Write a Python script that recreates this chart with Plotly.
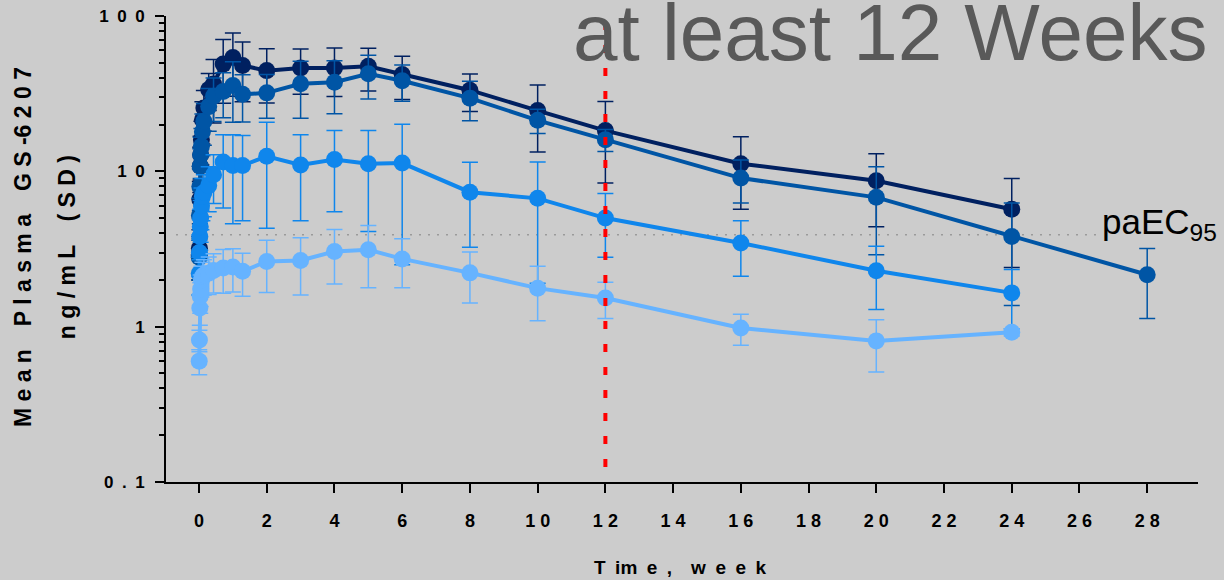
import plotly.graph_objects as go

# ---------------- data ----------------
t_early_late = [0.006, 0.012, 0.024, 0.036, 0.048, 0.071, 0.1, 0.143, 0.286, 0.429,
                0.714, 1.0, 1.286, 2, 3, 4, 5, 6, 8, 10, 12, 16, 20, 24]
t_dark = t_early_late + [28]

navy_mean = [2.9, 3.2, 6.6, 10.8, 12.8, 16, 21.5, 25.6, 33.6, 36.5,
             49, 54, 48, 44.5, 46.3, 46.3, 47.4, 42, 33.3, 24.6, 18.3, 11.2, 8.7, 5.7]
navy_sd = [0.9, 1.0, 2.0, 3.5, 4, 5, 6.5, 7.5, 9, 16,
           21.6, 23.6, 20, 17, 15, 16, 14.5, 13, 9, 11.3, 9.9, 5.5, 4.3, 3.3]

dark_mean = [2.8, 5.2, 8.0, 10.8, 12.8, 14.5, 18, 21, 26.1, 30.4,
             32.6, 35.7, 31.3, 32, 36.6, 37.5, 42.5, 38.3, 29.6, 21.3, 16.0, 9.05, 6.8, 3.81, 2.16]
dark_sd = [0.8, 1.5, 2.4, 3.2, 3.8, 4.4, 5.4, 6.3, 8, 9.5,
           10.5, 15, 10.5, 10, 14.6, 14, 13.3, 10, 8.4, 3.8, 2.6, 2.8, 3.9, 2.44, 1.03]

med_mean = [2.2, 3.0, 3.8, 4.4, 5.0, 6.0, 6.9, 7.3, 8.1, 9.5,
            11.5, 10.9, 10.9, 12.5, 11.0, 11.9, 11.2, 11.3, 7.34, 6.7, 5.0, 3.46, 2.29, 1.65]
med_sd = [0.6, 0.9, 1.1, 1.3, 1.5, 1.8, 2.1, 2.2, 2.6, 3.3,
          5.7, 6.3, 6.1, 8.2, 6.2, 6.4, 7.1, 8.8, 4.1, 4.8, 2.2, 1.35, 1.0, 0.68]

light_mean = [0.60, 0.82, 1.32, 1.57, 1.75, 2.0, 2.1, 2.15, 2.21, 2.3,
              2.39, 2.42, 2.27, 2.63, 2.67, 3.05, 3.13, 2.73, 2.22, 1.77, 1.53, 0.98, 0.81, 0.92]
light_sd = [0.11, 0.13, 0.3, 0.35, 0.4, 0.45, 0.5, 0.55, 0.6, 0.65,
            0.75, 0.75, 0.7, 0.97, 1.07, 1.17, 1.35, 0.95, 0.8, 0.68, 0.4, 0.22, 0.3, 0.05]

PAEC95 = 3.9
paec_x = [-0.68, 26.6]
week12_x = [12, 12]
week12_y = [0.125, 100]

x_ticks = list(range(0, 30, 2))
x_ticktext = [" ".join(str(v)) for v in x_ticks]
y_ticks = [0.1, 1, 10, 100]
y_ticktext = ["0\u2002.\u20021", "1", "1\u20020", "1\u20020\u20020"]

FONT = "Liberation Sans, Arial, sans-serif"
BG = "#cccccc"

series = [
    (t_early_late, navy_mean, navy_sd, "#002060"),
    (t_dark, dark_mean, dark_sd, "#0055A5"),
    (t_early_late, med_mean, med_sd, "#0F86EC"),
    (t_early_late, light_mean, light_sd, "#66B3FF"),
]

fig = go.Figure()

# paEC95 dotted reference line
fig.add_trace(go.Scatter(x=paec_x, y=[PAEC95, PAEC95], mode="lines",
                         line=dict(color="#9a9a9a", width=1.5, dash="2px,7px"),
                         hoverinfo="skip", showlegend=False))

for t, m, sd, c in series:
    fig.add_trace(go.Scatter(
        x=t, y=m, mode="lines+markers",
        line=dict(color=c, width=4),
        marker=dict(color=c, size=17, symbol="circle", line=dict(width=0)),
        error_y=dict(type="data", array=sd, visible=True, color=c,
                     thickness=1.5, width=8),
        showlegend=False))

# week 12 red dashed line
fig.add_trace(go.Scatter(x=week12_x, y=week12_y, mode="lines",
                         line=dict(color="#ff0000", width=4, dash="8px,15px"),
                         hoverinfo="skip", showlegend=False))

fig.update_layout(
    width=1224, height=580,
    margin=dict(l=166, r=26, t=16, b=98),
    paper_bgcolor=BG, plot_bgcolor=BG,
    font=dict(family=FONT, color="black"),
    showlegend=False,
    xaxis=dict(
        range=[-0.975, 29.5], tickmode="array", tickvals=x_ticks, ticktext=x_ticktext,
        showline=True, linecolor="black", linewidth=2,
        ticks="outside", ticklen=9, tickwidth=1.5, tickcolor="black",
        showgrid=False, zeroline=False, automargin=False,
        tickfont=dict(size=18, family=FONT, weight="bold", color="black"),
        ticklabelstandoff=12,
    ),
    yaxis=dict(
        type="log", range=[-1, 2], tickmode="array", tickvals=y_ticks, ticktext=y_ticktext,
        showline=True, linecolor="black", linewidth=2,
        ticks="outside", ticklen=9, tickwidth=1.5, tickcolor="black",
        showgrid=False, zeroline=False, automargin=False,
        tickfont=dict(size=17, family=FONT, weight="bold", color="black"),
        ticklabelstandoff=7,
        minor=dict(ticks="outside", ticklen=5, tickwidth=1.5, tickcolor="black",
                   tickmode="linear", dtick="D1", showgrid=False),
    ),
    annotations=[
        dict(text="at least 12 Weeks", xref="paper", yref="paper",
             x=1.011, y=0.864, xanchor="right", yanchor="bottom", showarrow=False,
             font=dict(size=80, family=FONT, color="#595959")),
        dict(text="paEC<sub>95</sub>", xref="x", yref="paper",
             x=26.62, y=0.606, xanchor="left", yanchor="top", showarrow=False,
             font=dict(size=35, family=FONT, color="black")),
        dict(text="M e a n\u2002\u2002P l a s m a\u2002\u2002G S -6 2 0 7",
             xref="paper", yref="paper", x=-0.1386, y=0.504, textangle=-90,
             xanchor="center", yanchor="middle", showarrow=False,
             font=dict(size=23, family=FONT, weight="bold", color="black")),
        dict(text="n g / m L\u2002\u2002( S D )",
             xref="paper", yref="paper", x=-0.0959, y=0.504, textangle=-90,
             xanchor="center", yanchor="middle", showarrow=False,
             font=dict(size=23, family=FONT, weight="bold", color="black")),
        dict(text="T\u2002im\u2002e\u2002,\u2002\u2002w\u2002e\u2002e\u2002k",
             xref="paper", yref="paper", x=0.4981, y=-0.1845,
             xanchor="center", yanchor="middle", showarrow=False,
             font=dict(size=19, family=FONT, weight="bold", color="black")),
    ],
)

fig.write_html("out.html")
